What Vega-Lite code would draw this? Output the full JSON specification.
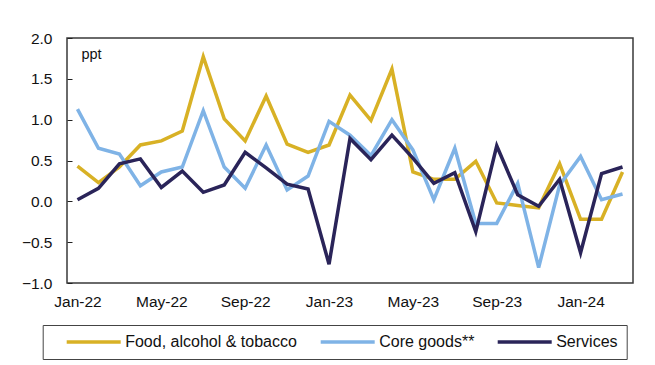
{
  "$schema": "https://vega.github.io/schema/vega-lite/v6.json",
  "autosize": {"type": "none"},
  "width": 566,
  "height": 245,
  "padding": {"left": 67, "top": 38, "right": 22, "bottom": 82},
  "background": "white",
  "config": {
    "font": "Liberation Sans",
    "view": {"stroke": "#3a3a3a", "strokeWidth": 1.5}
  },
  "datasets": {
    "series": [
      {"month": "Jan-22", "series": "Food, alcohol & tobacco", "value": 0.43},
      {"month": "Feb-22", "series": "Food, alcohol & tobacco", "value": 0.23},
      {"month": "Mar-22", "series": "Food, alcohol & tobacco", "value": 0.42},
      {"month": "Apr-22", "series": "Food, alcohol & tobacco", "value": 0.69},
      {"month": "May-22", "series": "Food, alcohol & tobacco", "value": 0.74},
      {"month": "Jun-22", "series": "Food, alcohol & tobacco", "value": 0.86},
      {"month": "Jul-22", "series": "Food, alcohol & tobacco", "value": 1.77},
      {"month": "Aug-22", "series": "Food, alcohol & tobacco", "value": 1.01},
      {"month": "Sep-22", "series": "Food, alcohol & tobacco", "value": 0.74},
      {"month": "Oct-22", "series": "Food, alcohol & tobacco", "value": 1.29},
      {"month": "Nov-22", "series": "Food, alcohol & tobacco", "value": 0.70},
      {"month": "Dec-22", "series": "Food, alcohol & tobacco", "value": 0.60},
      {"month": "Jan-23", "series": "Food, alcohol & tobacco", "value": 0.69},
      {"month": "Feb-23", "series": "Food, alcohol & tobacco", "value": 1.30},
      {"month": "Mar-23", "series": "Food, alcohol & tobacco", "value": 0.99},
      {"month": "Apr-23", "series": "Food, alcohol & tobacco", "value": 1.62},
      {"month": "May-23", "series": "Food, alcohol & tobacco", "value": 0.36},
      {"month": "Jun-23", "series": "Food, alcohol & tobacco", "value": 0.27},
      {"month": "Jul-23", "series": "Food, alcohol & tobacco", "value": 0.27},
      {"month": "Aug-23", "series": "Food, alcohol & tobacco", "value": 0.49},
      {"month": "Sep-23", "series": "Food, alcohol & tobacco", "value": -0.02},
      {"month": "Oct-23", "series": "Food, alcohol & tobacco", "value": -0.05},
      {"month": "Nov-23", "series": "Food, alcohol & tobacco", "value": -0.08},
      {"month": "Dec-23", "series": "Food, alcohol & tobacco", "value": 0.46},
      {"month": "Jan-24", "series": "Food, alcohol & tobacco", "value": -0.22},
      {"month": "Feb-24", "series": "Food, alcohol & tobacco", "value": -0.22},
      {"month": "Mar-24", "series": "Food, alcohol & tobacco", "value": 0.36},
      {"month": "Jan-22", "series": "Core goods**", "value": 1.13},
      {"month": "Feb-22", "series": "Core goods**", "value": 0.65},
      {"month": "Mar-22", "series": "Core goods**", "value": 0.58},
      {"month": "Apr-22", "series": "Core goods**", "value": 0.19},
      {"month": "May-22", "series": "Core goods**", "value": 0.36},
      {"month": "Jun-22", "series": "Core goods**", "value": 0.42},
      {"month": "Jul-22", "series": "Core goods**", "value": 1.11},
      {"month": "Aug-22", "series": "Core goods**", "value": 0.42},
      {"month": "Sep-22", "series": "Core goods**", "value": 0.16},
      {"month": "Oct-22", "series": "Core goods**", "value": 0.69},
      {"month": "Nov-22", "series": "Core goods**", "value": 0.14},
      {"month": "Dec-22", "series": "Core goods**", "value": 0.31},
      {"month": "Jan-23", "series": "Core goods**", "value": 0.98},
      {"month": "Feb-23", "series": "Core goods**", "value": 0.81},
      {"month": "Mar-23", "series": "Core goods**", "value": 0.56},
      {"month": "Apr-23", "series": "Core goods**", "value": 1.00},
      {"month": "May-23", "series": "Core goods**", "value": 0.63},
      {"month": "Jun-23", "series": "Core goods**", "value": 0.02},
      {"month": "Jul-23", "series": "Core goods**", "value": 0.65},
      {"month": "Aug-23", "series": "Core goods**", "value": -0.27},
      {"month": "Sep-23", "series": "Core goods**", "value": -0.27},
      {"month": "Oct-23", "series": "Core goods**", "value": 0.22},
      {"month": "Nov-23", "series": "Core goods**", "value": -0.81},
      {"month": "Dec-23", "series": "Core goods**", "value": 0.20},
      {"month": "Jan-24", "series": "Core goods**", "value": 0.55},
      {"month": "Feb-24", "series": "Core goods**", "value": 0.02},
      {"month": "Mar-24", "series": "Core goods**", "value": 0.09},
      {"month": "Jan-22", "series": "Services", "value": 0.02},
      {"month": "Feb-22", "series": "Services", "value": 0.16},
      {"month": "Mar-22", "series": "Services", "value": 0.46},
      {"month": "Apr-22", "series": "Services", "value": 0.52},
      {"month": "May-22", "series": "Services", "value": 0.17},
      {"month": "Jun-22", "series": "Services", "value": 0.37},
      {"month": "Jul-22", "series": "Services", "value": 0.11},
      {"month": "Aug-22", "series": "Services", "value": 0.20},
      {"month": "Sep-22", "series": "Services", "value": 0.60},
      {"month": "Oct-22", "series": "Services", "value": 0.41},
      {"month": "Nov-22", "series": "Services", "value": 0.21},
      {"month": "Dec-22", "series": "Services", "value": 0.15},
      {"month": "Jan-23", "series": "Services", "value": -0.77},
      {"month": "Feb-23", "series": "Services", "value": 0.77},
      {"month": "Mar-23", "series": "Services", "value": 0.51},
      {"month": "Apr-23", "series": "Services", "value": 0.81},
      {"month": "May-23", "series": "Services", "value": 0.53},
      {"month": "Jun-23", "series": "Services", "value": 0.22},
      {"month": "Jul-23", "series": "Services", "value": 0.35},
      {"month": "Aug-23", "series": "Services", "value": -0.37},
      {"month": "Sep-23", "series": "Services", "value": 0.68},
      {"month": "Oct-23", "series": "Services", "value": 0.08},
      {"month": "Nov-23", "series": "Services", "value": -0.06},
      {"month": "Dec-23", "series": "Services", "value": 0.27},
      {"month": "Jan-24", "series": "Services", "value": -0.63},
      {"month": "Feb-24", "series": "Services", "value": 0.34},
      {"month": "Mar-24", "series": "Services", "value": 0.42}
    ],
    "note": [
      {"month": "Jan-22", "value": 1.74, "label": "ppt"}
    ]
  },
  "layer": [
    {
      "mark": {"type": "rule", "color": "#222222", "strokeWidth": 1},
      "encoding": {
        "y": {"datum": 0, "type": "quantitative"}
      }
    },
    {
      "data": {"name": "series"},
      "mark": {"type": "line", "strokeWidth": 3.5, "strokeJoin": "miter", "strokeCap": "butt"},
      "encoding": {
        "x": {
          "field": "month",
          "type": "ordinal",
          "scale": {
            "type": "point",
            "padding": 0.5,
            "domain": ["Jan-22","Feb-22","Mar-22","Apr-22","May-22","Jun-22","Jul-22","Aug-22","Sep-22","Oct-22","Nov-22","Dec-22","Jan-23","Feb-23","Mar-23","Apr-23","May-23","Jun-23","Jul-23","Aug-23","Sep-23","Oct-23","Nov-23","Dec-23","Jan-24","Feb-24","Mar-24"]
          },
          "axis": {
            "title": null,
            "values": ["Jan-22","May-22","Sep-22","Jan-23","May-23","Sep-23","Jan-24"],
            "ticks": false,
            "domain": false,
            "labelAngle": 0,
            "labelFontSize": 15.5,
            "labelColor": "#111111",
            "labelPadding": 11
          }
        },
        "y": {
          "field": "value",
          "type": "quantitative",
          "scale": {"domain": [-1, 2], "nice": false, "zero": false},
          "axis": {
            "title": null,
            "values": [-1, -0.5, 0, 0.5, 1, 1.5, 2],
            "format": ".1f",
            "grid": false,
            "domain": false,
            "tickSize": -5,
            "tickColor": "#222222",
            "labelPadding": 20,
            "labelFontSize": 15.5,
            "labelColor": "#111111"
          }
        },
        "color": {
          "field": "series",
          "type": "nominal",
          "scale": {
            "domain": ["Food, alcohol & tobacco", "Core goods**", "Services"],
            "range": ["#D8B125", "#7FB3E6", "#2A2459"]
          },
          "legend": {
            "title": null,
            "orient": "none",
            "direction": "horizontal",
            "legendX": -24.3,
            "legendY": 287,
            "symbolType": "M1.273,0H11.091",
            "symbolSize": 121,
            "symbolStrokeWidth": 3.5,
            "labelFontSize": 16,
            "labelColor": "#111111",
            "labelOffset": 57.5,
            "columnPadding": 8,
            "padding": 9,
            "strokeColor": "#444444",
            "labelLimit": 400,
            "labelExpr": "datum.label + (datum.label == 'Services' ? '  ' : '')"
          }
        }
      }
    },
    {
      "data": {"name": "note"},
      "mark": {"type": "text", "align": "left", "baseline": "alphabetic", "dx": 4, "fontSize": 14.5, "color": "#111111"},
      "encoding": {
        "x": {"field": "month", "type": "ordinal"},
        "y": {"field": "value", "type": "quantitative"},
        "text": {"field": "label"}
      }
    }
  ]
}
